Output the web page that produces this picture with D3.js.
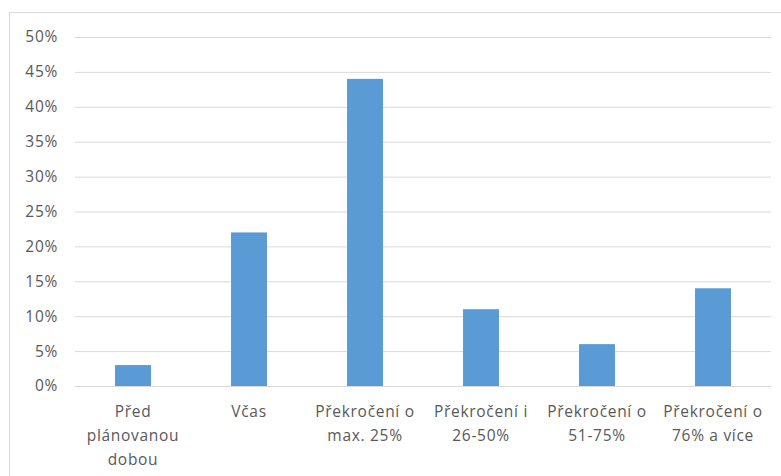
<!DOCTYPE html>
<html>
<head>
<meta charset="utf-8">
<script src="https://cdn.jsdelivr.net/npm/d3@7"></script>
<style>
  html, body { margin: 0; padding: 0; background: #fff; }
  svg text { font-family: "Open Sans", "Segoe UI", sans-serif; fill: #595959; letter-spacing: 0.7px; }
</style>
</head>
<body>
<svg id="chart" width="781" height="476"></svg>
<script>
// Share of projects by completion time versus the planned duration
const categories = [
  ["Před", "plánovanou", "dobou"],
  ["Včas"],
  ["Překročení o", "max. 25%"],
  ["Překročení i", "26-50%"],
  ["Překročení o", "51-75%"],
  ["Překročení o", "76% a více"]
];
const values = [3, 22, 44, 11, 6, 14];
const yTicks = [0, 5, 10, 15, 20, 25, 30, 35, 40, 45, 50];

const svg = d3.select("#chart");
const W = 781, H = 476;
const m = { left: 75, right: 10, top: 37, bottom: 90 };

// chart frame
svg.append("rect")
  .attr("x", 9.5).attr("y", 12.5)
  .attr("width", W + 10).attr("height", H + 10)
  .attr("fill", "none").attr("stroke", "#d9d9d9");

const x = d3.scaleBand()
  .domain(d3.range(categories.length))
  .range([m.left, W - m.right])
  .paddingInner(0.69).paddingOuter(0.345);

const y = d3.scaleLinear().domain([0, 50]).range([H - m.bottom, m.top]);

// horizontal gridlines and percent labels
const yAxis = d3.axisLeft(y)
  .tickValues(yTicks)
  .tickSize(-(W - m.right - m.left))
  .tickPadding(17)
  .tickFormat(d => d + "%");

const gy = svg.append("g").attr("transform", `translate(${m.left},0)`).call(yAxis);
gy.select(".domain").remove();
gy.selectAll(".tick line").attr("stroke", "#d9d9d9").attr("stroke-width", 1);
gy.selectAll(".tick text").attr("font-size", 15.5).attr("fill", "#595959");

// bars
svg.append("g").selectAll("rect")
  .data(values)
  .join("rect")
  .attr("x", (d, i) => x(i))
  .attr("width", x.bandwidth())
  .attr("y", d => y(d))
  .attr("height", d => y(0) - y(d))
  .attr("fill", "#5b9bd5");

// category labels (multi-line)
const gx = svg.append("g");
categories.forEach((lines, i) => {
  const t = gx.append("text")
    .attr("text-anchor", "middle")
    .attr("font-size", 15.5)
    .attr("x", x(i) + x.bandwidth() / 2)
    .attr("y", y(0) + 31);
  lines.forEach((ln, j) => {
    t.append("tspan")
      .attr("x", x(i) + x.bandwidth() / 2)
      .attr("dy", j === 0 ? 0 : 24)
      .text(ln);
  });
});
</script>
</body>
</html>
